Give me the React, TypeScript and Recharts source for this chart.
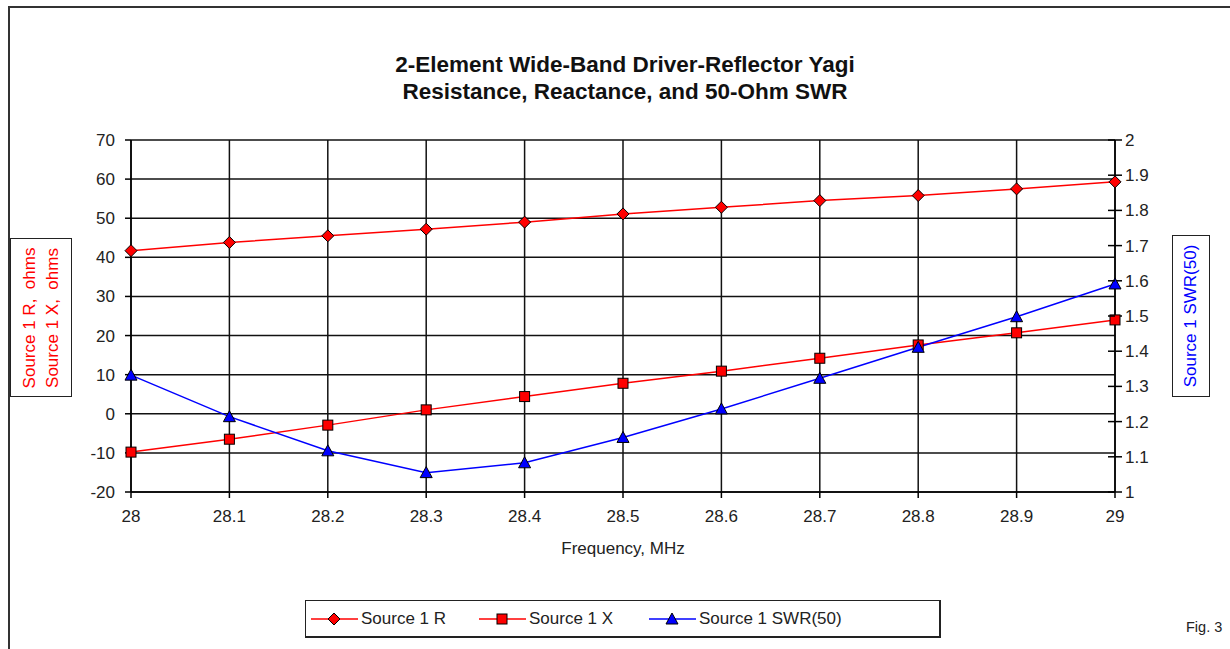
import { LineChart, Line, XAxis, YAxis, CartesianGrid } from 'recharts';

const freq = [28, 28.1, 28.2, 28.3, 28.4, 28.5, 28.6, 28.7, 28.8, 28.9, 29];
const sourceR = [41.7, 43.8, 45.5, 47.2, 49.0, 51.1, 52.8, 54.5, 55.8, 57.5, 59.3];
const sourceX = [-9.8, -6.5, -2.9, 1.0, 4.4, 7.8, 10.9, 14.2, 17.6, 20.7, 24.0];
const swr = [1.332, 1.214, 1.117, 1.055, 1.083, 1.155, 1.236, 1.323, 1.411, 1.498, 1.591];

const ohmTicks = [-20, -10, 0, 10, 20, 30, 40, 50, 60, 70];
const swrTicks = [1, 1.1, 1.2, 1.3, 1.4, 1.5, 1.6, 1.7, 1.8, 1.9, 2];

const legendItems = [
  { name: 'Source 1 R', color: '#ff0000', shape: 'diamond', left: 5 },
  { name: 'Source 1 X', color: '#ff0000', shape: 'square', left: 173 },
  { name: 'Source 1 SWR(50)', color: '#0000ff', shape: 'triangle', left: 343 },
];

const data = freq.map((f, i) => ({ f, r: sourceR[i], x: sourceX[i], swr: swr[i] }));

const FONT = '"Liberation Sans", Arial, sans-serif';
const TEXT = '#222';
const FS = 17;

function Marker({ cx, cy, shape, color }: any) {
  if (cx == null || cy == null) return null;
  if (shape === 'diamond') {
    return (
      <polygon
        points={`${cx},${cy - 6} ${cx + 6},${cy} ${cx},${cy + 6} ${cx - 6},${cy}`}
        fill={color}
        stroke="#000"
        strokeWidth={1}
      />
    );
  }
  if (shape === 'square') {
    return <rect x={cx - 5} y={cy - 5} width={10} height={10} fill={color} stroke="#000" strokeWidth={1} />;
  }
  return (
    <polygon
      points={`${cx},${cy - 6} ${cx + 6},${cy + 5} ${cx - 6},${cy + 5}`}
      fill={color}
      stroke="#000"
      strokeWidth={1}
    />
  );
}

// right axis ticks cross the axis line (like Excel)
function SwrTick(props: any) {
  const { x, y, payload } = props;
  return (
    <g>
      <line x1={x - 17} x2={x - 10} y1={y} y2={y} stroke="#000" strokeWidth={1.5} />
      <text x={x} y={y} dy={6} fontSize={FS} fill={TEXT} fontFamily={FONT} textAnchor="start">
        {String(payload.value)}
      </text>
    </g>
  );
}

export default function App() {
  return (
    <div style={{ position: 'absolute', left: 0, top: 0, width: 1230, height: 649, background: '#fff', overflow: 'hidden', fontFamily: FONT }}>
      {/* frame */}
      <div style={{ position: 'absolute', left: 8, top: 6, width: 1230, height: 660, borderTop: '2px solid #333', borderLeft: '2px solid #333' }} />

      {/* title */}
      <div style={{ position: 'absolute', left: 0, width: 1250, top: 51, textAlign: 'center', fontWeight: 'bold', fontSize: 22.5, lineHeight: '27px', color: '#111' }}>
        2-Element Wide-Band Driver-Reflector Yagi
        <br />
        Resistance, Reactance, and 50-Ohm SWR
      </div>

      <LineChart
        width={1230}
        height={649}
        data={data}
        margin={{ top: 140, right: 65, bottom: 127, left: 81 }}
        style={{ position: 'absolute', left: 0, top: 0 }}
      >
        <CartesianGrid yAxisId="left" stroke="#111" strokeWidth={1.5} />
        <XAxis
          dataKey="f"
          type="number"
          domain={[28, 29]}
          ticks={freq}
          height={30}
          tickSize={6}
          tickMargin={12}
          stroke="#000"
          strokeWidth={1.5}
          tick={{ fontSize: FS, fill: TEXT, fontFamily: FONT }}
          tickFormatter={(v: number) => String(v)}
        />
        <YAxis
          yAxisId="left"
          domain={[-20, 70]}
          ticks={ohmTicks}
          width={50}
          tickSize={6}
          tickMargin={10}
          stroke="#000"
          strokeWidth={1.5}
          tick={{ fontSize: FS, fill: TEXT, fontFamily: FONT }}
        />
        <YAxis
          yAxisId="right"
          orientation="right"
          domain={[1, 2]}
          ticks={swrTicks}
          width={50}
          tickSize={7}
          tickMargin={3}
          stroke="#000"
          strokeWidth={1.5}
          tick={<SwrTick />}
        />
        <Line
          yAxisId="left"
          dataKey="r"
          type="linear"
          stroke="#ff0000"
          strokeWidth={1.5}
          isAnimationActive={false}
          activeDot={false}
          dot={(p: any) => <Marker key={`r${p.index}`} cx={p.cx} cy={p.cy} shape="diamond" color="#ff0000" />}
        />
        <Line
          yAxisId="left"
          dataKey="x"
          type="linear"
          stroke="#ff0000"
          strokeWidth={1.5}
          isAnimationActive={false}
          activeDot={false}
          dot={(p: any) => <Marker key={`x${p.index}`} cx={p.cx} cy={p.cy} shape="square" color="#ff0000" />}
        />
        <Line
          yAxisId="right"
          dataKey="swr"
          type="linear"
          stroke="#0000ff"
          strokeWidth={1.5}
          isAnimationActive={false}
          activeDot={false}
          dot={(p: any) => <Marker key={`s${p.index}`} cx={p.cx} cy={p.cy} shape="triangle" color="#0000ff" />}
        />
      </LineChart>

      {/* x axis title */}
      <div style={{ position: 'absolute', left: 473, width: 300, top: 539, textAlign: 'center', fontSize: FS, color: TEXT }}>
        Frequency, MHz
      </div>

      {/* left axis title box */}
      <div style={{ position: 'absolute', left: 10, top: 238, width: 62, height: 159, border: '1px solid #222', boxSizing: 'border-box' }}>
        <div style={{ position: 'absolute', left: 30, top: 79, width: 159, transform: 'translate(-50%, -50%) rotate(-90deg)', textAlign: 'center', fontSize: FS, lineHeight: '23px', color: '#ff0000', whiteSpace: 'nowrap' }}>
          Source 1 R,&nbsp; ohms
          <br />
          Source 1 X,&nbsp; ohms
        </div>
      </div>

      {/* right axis title box */}
      <div style={{ position: 'absolute', left: 1172, top: 235, width: 38, height: 162, border: '1px solid #222', boxSizing: 'border-box' }}>
        <div style={{ position: 'absolute', left: 18, top: 80, width: 162, transform: 'translate(-50%, -50%) rotate(-90deg)', textAlign: 'center', fontSize: FS, lineHeight: '20px', color: '#0000ff', whiteSpace: 'nowrap' }}>
          Source 1 SWR(50)
        </div>
      </div>

      {/* legend */}
      <div style={{ position: 'absolute', left: 305, top: 600, width: 636, height: 38, border: '1px solid #222', borderRightWidth: 2, borderBottomWidth: 2, boxSizing: 'border-box' }}>
        {legendItems.map((it) => (
          <div key={it.name} style={{ position: 'absolute', left: it.left, top: 0, height: 35, display: 'flex', alignItems: 'center' }}>
            <svg width={47} height={16}>
              <line x1={0} x2={47} y1={8} y2={8} stroke={it.color} strokeWidth={1.5} />
              <Marker cx={23} cy={8} shape={it.shape} color={it.color} />
            </svg>
            <span style={{ fontSize: FS, color: TEXT, marginLeft: 3 }}>{it.name}</span>
          </div>
        ))}
      </div>

      <div style={{ position: 'absolute', left: 1186, top: 619, fontSize: 14.5, color: TEXT }}>Fig. 3</div>
    </div>
  );
}
